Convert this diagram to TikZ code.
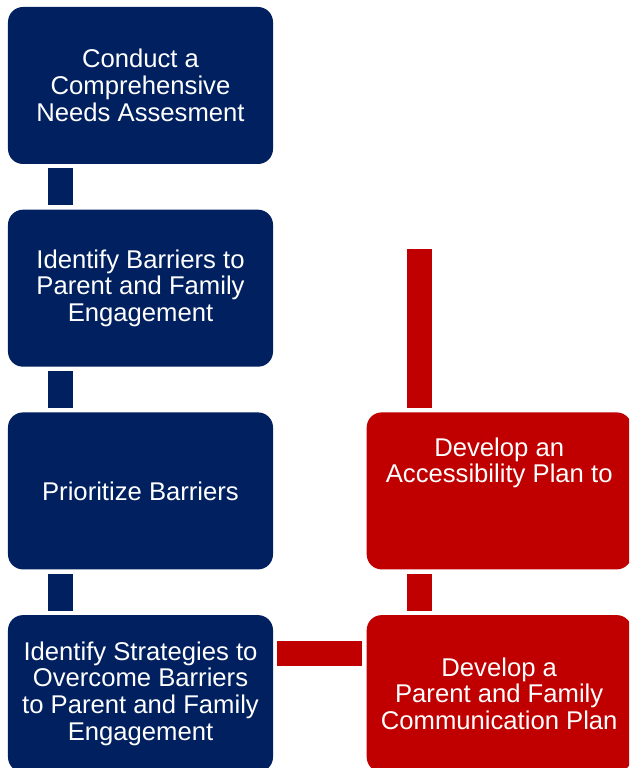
\documentclass[tikz,border=0pt]{standalone}
\usepackage{fontspec}
\setmainfont{Liberation Sans}
\usetikzlibrary{positioning,calc}

\definecolor{navy}{RGB}{0,32,96}
\definecolor{darkred}{RGB}{192,0,0}

\begin{document}
\begin{tikzpicture}[
    node distance=0.9cm and 1.86cm,
    box/.style={rounded corners=0.3cm, minimum width=5.3cm, minimum height=3.14cm, align=center, text=white, font=\fontsize{14.6}{15.2}\selectfont, inner sep=0pt},
    stage/.style={box, fill=navy},
    plan/.style={box, fill=darkred},
    link/.style={line width=0.5cm, navy},
    redlink/.style={link, darkred}
]

% Frame of the picture (boxes run off the right and bottom edge)
\clip (0,0) rectangle (12.58,15.36);

% Left column: the steps
\node[stage] (assess) at (2.81,13.65) {Conduct a\\Comprehensive\\Needs Assesment};
\node[stage, below=of assess] (barriers) {Identify Barriers to\\Parent and Family\\Engagement};
\node[stage, below=of barriers] (prioritize) {Prioritize Barriers};
\node[stage, below=of prioritize] (strategies) {Identify Strategies to\\Overcome Barriers\\to Parent and Family\\Engagement};

% Right column: the plans
\node[plan, right=of prioritize] (access) {Develop an\\Accessibility Plan to\\\strut\\\strut};
\node[plan, right=of strategies] (commun) {Develop a\\Parent and Family\\Communication Plan};

% Free end of the red line above the accessibility plan
\coordinate (feed) at ($(access.north west)+(1.06,3.26)$);

% Connectors between the steps
\draw[link] ($(assess.south west)+(1.05,-0.08)$) -- ($(barriers.north west)+(1.05,0.08)$);
\draw[link] ($(barriers.south west)+(1.05,-0.08)$) -- ($(prioritize.north west)+(1.05,0.08)$);
\draw[link] ($(prioritize.south west)+(1.05,-0.08)$) -- ($(strategies.north west)+(1.05,0.08)$);

% Connectors of the plans
\draw[redlink] (feed) -- ($(access.north west)+(1.06,0.08)$);
\draw[redlink] ($(access.south west)+(1.06,-0.08)$) -- ($(commun.north west)+(1.06,0.08)$);
\draw[redlink] ($(strategies.north east)+(0.08,-0.77)$) -- ($(commun.north west)+(-0.08,-0.77)$);

\end{tikzpicture}
\end{document}
